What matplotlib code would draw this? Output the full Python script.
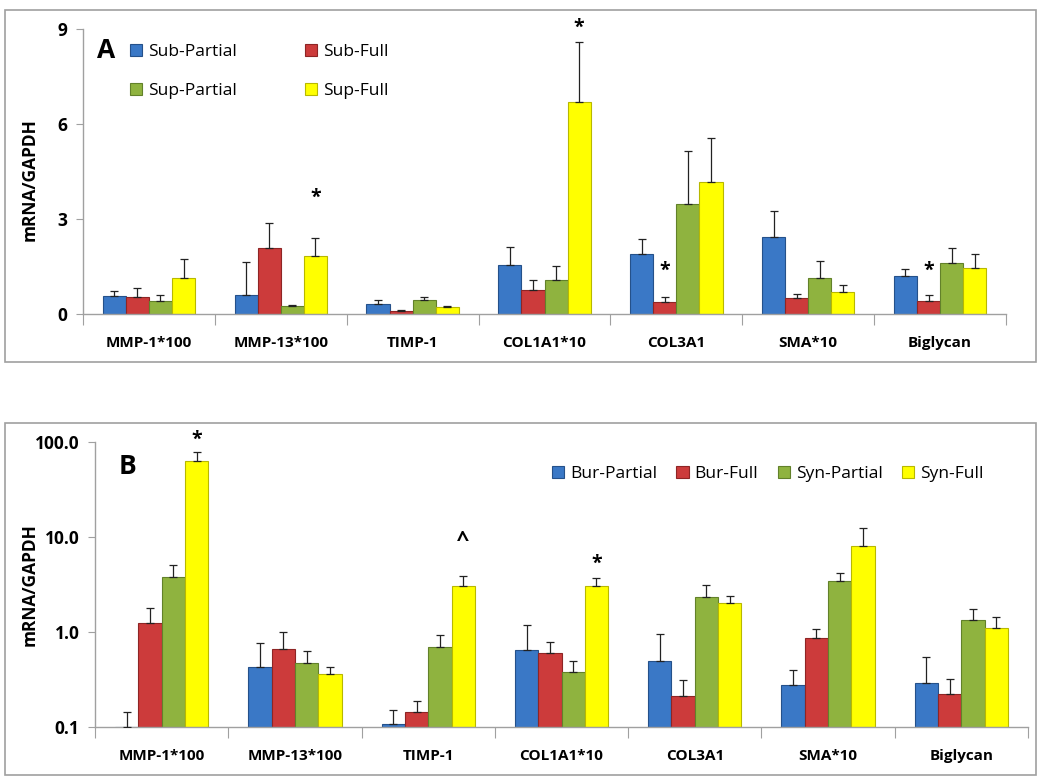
import numpy as np
import matplotlib.pyplot as plt
from matplotlib.patches import Rectangle
from matplotlib.ticker import FixedLocator, NullLocator

genes = ['MMP-1*100', 'MMP-13*100', 'TIMP-1', 'COL1A1*10', 'COL3A1', 'SMA*10', 'Biglycan']

# panel A: subchondral / superficial
labels_a = ['Sub-Partial', 'Sub-Full', 'Sup-Partial', 'Sup-Full']
sub_partial = [0.57, 0.60, 0.32, 1.55, 1.89, 2.43, 1.20]
sub_partial_err = [0.16, 1.04, 0.11, 0.57, 0.47, 0.82, 0.22]
sub_full = [0.54, 2.08, 0.10, 0.76, 0.38, 0.50, 0.42]
sub_full_err = [0.28, 0.79, 0.02, 0.31, 0.17, 0.13, 0.19]
sup_partial = [0.41, 0.25, 0.43, 1.07, 3.47, 1.15, 1.60]
sup_partial_err = [0.19, 0.02, 0.12, 0.45, 1.68, 0.52, 0.50]
sup_full = [1.14, 1.83, 0.22, 6.69, 4.17, 0.70, 1.45]
sup_full_err = [0.59, 0.57, 0.04, 1.91, 1.40, 0.22, 0.44]
# (series index, gene index, symbol, offset above error bar in points)
marks_a = [(3, 1, '*', 22), (3, 3, '*', 3), (1, 4, '*', 11), (1, 6, '*', 10)]

# panel B: bursal / synovial
labels_b = ['Bur-Partial', 'Bur-Full', 'Syn-Partial', 'Syn-Full']
bur_partial = [0.101, 0.43, 0.107, 0.64, 0.50, 0.28, 0.29]
bur_partial_err = [0.044, 0.33, 0.044, 0.54, 0.46, 0.12, 0.26]
bur_full = [1.24, 0.67, 0.143, 0.60, 0.214, 0.87, 0.22]
bur_full_err = [0.54, 0.33, 0.047, 0.19, 0.096, 0.21, 0.10]
syn_partial = [3.77, 0.47, 0.69, 0.377, 2.34, 3.47, 1.34]
syn_partial_err = [1.30, 0.16, 0.24, 0.123, 0.78, 0.73, 0.39]
syn_full = [63.0, 0.36, 3.05, 3.05, 2.00, 8.1, 1.11]
syn_full_err = [16.0, 0.07, 0.83, 0.62, 0.41, 4.4, 0.32]
marks_b = [(3, 0, '*', 1), (3, 2, '^', 18), (3, 3, '*', 3)]

colors = ['#3a78c6', '#cc3b3b', '#8fb33f', '#ffff00']
edges = ['#25518a', '#8e2525', '#62812a', '#b8b800']

plt.rcParams['font.family'] = ['Open Sans', 'DejaVu Sans']

fig = plt.figure(figsize=(10.5, 7.82), dpi=100)

# outer frames around the two panels
for (x0, y0, x1, y1) in [(5, 10, 1036, 362), (5, 423, 1036, 775)]:
    fig.patches.append(Rectangle((x0 / 1050, 1 - y1 / 782), (x1 - x0) / 1050, (y1 - y0) / 782,
                                 transform=fig.transFigure, fill=False,
                                 edgecolor='#a0a0a0', linewidth=1.2))

ax_a = fig.add_axes([83 / 1050, 1 - 314 / 782, 923 / 1050, 285 / 782])
ax_b = fig.add_axes([95 / 1050, 1 - 727 / 782, 933 / 1050, 285 / 782])

x = np.arange(len(genes))
w = 0.175


def draw_panel(ax, series, errs, labels, marks, log=False):
    bottom = 0.1 if log else 0.0
    tops = []
    for i, (vals, err) in enumerate(zip(series, errs)):
        xs = x + (i - 1.5) * w
        vals = np.array(vals)
        ax.bar(xs, vals - bottom, bottom=bottom, width=w, color=colors[i],
               edgecolor=edges[i], linewidth=0.8, label=labels[i], zorder=2)
        ax.errorbar(xs, vals, yerr=[np.zeros_like(vals), err], fmt='none',
                    ecolor='#222222', elinewidth=0.9, capsize=3, capthick=0.9, zorder=3)
        tops.append(vals + np.array(err))
    for si, gi, sym, off in marks:
        ax.annotate(sym, (x[gi] + (si - 1.5) * w, tops[si][gi]), xytext=(0, off),
                    textcoords='offset points', ha='center', va='bottom',
                    fontsize=14 if sym == '*' else 16, fontweight='bold')

    ax.set_xlim(-0.5, len(genes) - 0.5)
    ax.xaxis.set_major_locator(FixedLocator(np.arange(-0.5, len(genes), 1.0)))
    ax.xaxis.set_major_formatter(plt.NullFormatter())
    ax.xaxis.set_minor_locator(FixedLocator(x))
    ax.set_xticklabels(genes, minor=True, fontsize=11, fontweight='bold')
    ax.tick_params(axis='x', which='major', length=8, color='#a0a0a0', direction='out')
    ax.tick_params(axis='x', which='minor', length=0, pad=16)
    ax.tick_params(axis='y', length=5, color='#a0a0a0', labelsize=12.5, pad=6)
    for s in ['top', 'right']:
        ax.spines[s].set_visible(False)
    for s in ['left', 'bottom']:
        ax.spines[s].set_color('#a0a0a0')
        ax.spines[s].set_linewidth(1.0)
    ax.set_ylabel('mRNA/GAPDH', fontsize=12.5, fontweight='bold')


draw_panel(ax_a, [sub_partial, sub_full, sup_partial, sup_full],
           [sub_partial_err, sub_full_err, sup_partial_err, sup_full_err], labels_a, marks_a)
ax_a.set_ylim(0, 9)
ax_a.set_yticks([0, 3, 6, 9])
ax_a.set_yticklabels(['0', '3', '6', '9'], fontweight='bold')
ax_a.yaxis.set_label_coords(39 / 1050, 1 - 180 / 782, transform=fig.transFigure)

ax_b.set_yscale('log')
draw_panel(ax_b, [bur_partial, bur_full, syn_partial, syn_full],
           [bur_partial_err, bur_full_err, syn_partial_err, syn_full_err], labels_b, marks_b, log=True)
ax_b.set_ylim(0.1, 100)
ax_b.set_yticks([0.1, 1, 10, 100])
ax_b.yaxis.set_minor_locator(NullLocator())
ax_b.set_yticklabels(['0.1', '1.0', '10.0', '100.0'], fontweight='bold')
ax_b.yaxis.set_label_coords(39 / 1050, 1 - 585 / 782, transform=fig.transFigure)

# legends
h, l = ax_a.get_legend_handles_labels()
order = [0, 2, 1, 3]
ax_a.legend([h[i] for i in order], [l[i] for i in order], ncol=2, loc='upper left',
            bbox_to_anchor=(130 / 1050, 1 - 44 / 782), bbox_transform=fig.transFigure,
            frameon=False, borderpad=0, borderaxespad=0, fontsize=12.5,
            handlelength=0.7, handleheight=0.7, handletextpad=0.35,
            columnspacing=3.9, labelspacing=1.3)
ax_b.legend(ncol=4, loc='upper left',
            bbox_to_anchor=(552 / 1050, 1 - 466 / 782), bbox_transform=fig.transFigure,
            frameon=False, borderpad=0, borderaxespad=0, fontsize=12.5,
            handlelength=0.7, handleheight=0.7, handletextpad=0.35, columnspacing=1.1)

fig.text(97 / 1050, 1 - 50 / 782, 'A', fontsize=19, fontweight='bold', va='center', ha='left')
fig.text(119 / 1050, 1 - 467 / 782, 'B', fontsize=19, fontweight='bold', va='center', ha='left')

fig.savefig('out.png', dpi=100)
